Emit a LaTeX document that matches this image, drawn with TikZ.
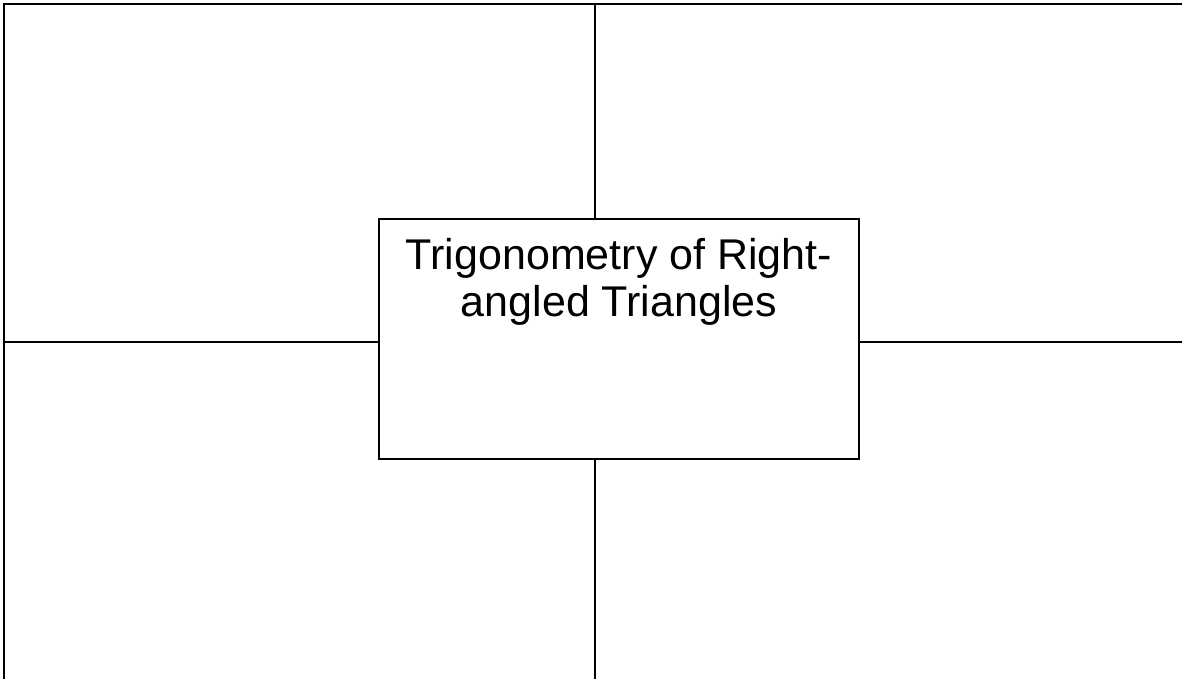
\documentclass[tikz,border=0pt]{standalone}
\usepackage{fontspec}
\setmainfont{Liberation Sans}
\usetikzlibrary{positioning}
\tikzset{frame/.style={line width=2.6pt},
 divider/.style={line width=2pt},
 topicbox/.style={draw,line width=2pt,minimum width=480pt,minimum height=240pt,inner sep=0pt},
 txt/.style={align=center,inner sep=0pt,font=\fontsize{43}{47}\selectfont}}
\begin{document}
\begin{tikzpicture}[x=1pt,y=-1pt]
\clip (0,0) rectangle (1182,679);
\draw[frame] (4,4) rectangle (1200,700);
\coordinate (top) at (595,4);\coordinate (bottom) at (595,679);
\coordinate (left) at (4,342);\coordinate (right) at (1182,342);
\node[topicbox,fill=white](topic) at (619,339){};
\node[txt,anchor=north](title) at (619,238.5){Trigonometry of Right-\\angled Triangles};
\draw[divider](top)--(top|-topic.north);
\draw[divider](topic.south-|bottom)--(bottom);
\draw[divider](left)--(left-|topic.west);
\draw[divider](topic.east|-right)--(right);
\end{tikzpicture}
\end{document}
